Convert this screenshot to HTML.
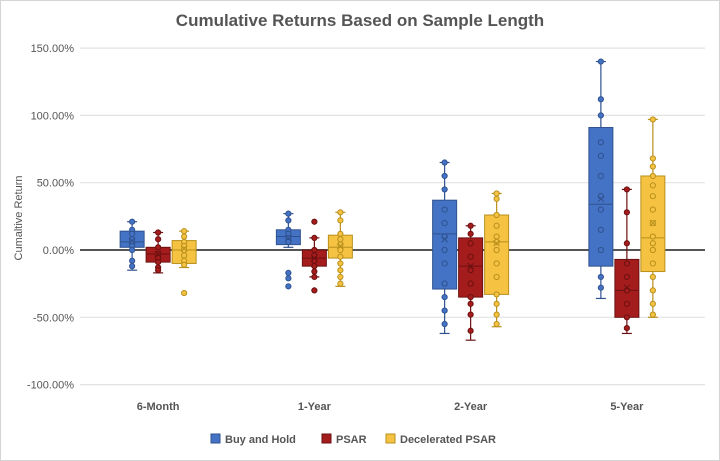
<!DOCTYPE html>
<html><head><meta charset="utf-8"><style>
body{margin:0;background:#fff;font-family:"Liberation Sans",sans-serif}
#wrap{position:relative;width:720px;height:461px;overflow:hidden}
</style></head><body>
<div id="wrap">
<svg id="chart" width="720" height="461" viewBox="0 0 720 461">
<rect x="0.5" y="0.5" width="719" height="460" fill="#fff" stroke="#d4d4d4"/>
<text x="360" y="26" text-anchor="middle" font-size="17" font-weight="bold" fill="#555">Cumulative Returns Based on Sample Length</text>
<text transform="translate(22,218) rotate(-90)" text-anchor="middle" font-size="11" fill="#555">Cumaltive Return</text>
<g id="grid"></g><g id="marks"></g><g id="legend"></g>
</svg>
</div>
<script>
const categories=["6-Month","1-Year","2-Year","5-Year"];
const seriesNames=["Buy and Hold","PSAR","Decelerated PSAR"];
const yTicks=[150,100,50,0,-50,-100];
const yTickLabels=["150.00%","100.00%","50.00%","0.00%","-50.00%","-100.00%"];
const bhMin=[-15,2,-62,-36];const bhQ1=[2,4,-29,-12];const bhMed=[6,10,12,34];const bhQ3=[14,15,37,91];const bhMax=[21,27,65,140];const bhMean=[7,9,8,38];
const psMin=[-17,-20,-67,-62];const psQ1=[-9,-12,-35,-50];const psMed=[-3,-6,-12,-30];const psQ3=[2,0,9,-7];const psMax=[13,9,18,45];const psMean=[-3,-6,-12,-28];
const dpMin=[-13,-27,-57,-50];const dpQ1=[-10,-6,-33,-16];const dpMed=[0,2,6,9];const dpQ3=[7,11,26,55];const dpMax=[14,28,42,97];const dpMean=[1,3,5,20];
const bhPts=[[21,15,12,8,5,3,0,-8,-12],[27,22,15,12,9,6,-17,-21,-27],[65,55,45,30,20,10,0,-10,-25,-35,-45,-55],[140,112,100,80,70,55,40,30,15,0,-20,-28]];
const psPts=[[13,8,2,-3,-6,-9,-13,-15],[21,9,0,-4,-8,-12,-16,-20,-30],[18,12,5,-5,-15,-25,-35,-40,-48,-60],[45,28,5,-10,-20,-30,-40,-50,-58]];
const dpPts=[[14,10,6,3,0,-4,-8,-11,-32],[28,22,12,8,4,0,-5,-10,-15,-20,-25],[42,38,26,18,10,6,0,-10,-20,-33,-40,-48,-55],[97,68,62,55,48,40,30,20,10,5,0,-10,-20,-30,-40,-48]];
const colors=["#4472c4","#a51c1c","#f5c242"];
const strokes=["#2f528f","#6b1010","#b8901c"];
const ns="http://www.w3.org/2000/svg";
const y=v=>250-v*1.346;
const x0=80,xw=625;
const cx=i=>x0+xw/categories.length*(i+0.5);
function mk(t,a,p){const e=document.createElementNS(ns,t);for(const k in a)e.setAttribute(k,a[k]);p.appendChild(e);return e;}
const grid=document.getElementById('grid'),marks=document.getElementById('marks'),leg=document.getElementById('legend');
yTicks.forEach((t,i)=>{
 const l=mk('line',{x1:x0,x2:x0+xw,y1:y(t),y2:y(t),stroke:t===0?'#555':'#e2e2e2','stroke-width':t===0?2:1.2},grid);
 
 
 const tx=mk('text',{x:74,y:y(t)+4,'text-anchor':'end','font-size':11,fill:'#555'},grid);
 tx.textContent=yTickLabels[i];
 
 
});
categories.forEach((c,i)=>{
 const tx=mk('text',{x:cx(i),y:410,'text-anchor':'middle','font-size':11,'font-weight':'bold',fill:'#555'},grid);
 tx.textContent=c;
 
 
});
const S=[[bhMin,bhQ1,bhMed,bhQ3,bhMax,bhMean,bhPts],[psMin,psQ1,psMed,psQ3,psMax,psMean,psPts],[dpMin,dpQ1,dpMed,dpQ3,dpMax,dpMean,dpPts]];
const bw=24,off=26;
categories.forEach((c,i)=>{
 S.forEach((s,k)=>{
  const xc=cx(i)+(k-1)*off;
  const g=mk('g',{},marks);
  
  
  const wc=strokes[k];
  mk('line',{x1:xc,x2:xc,y1:y(s[4][i]),y2:y(s[0][i]),stroke:wc,'stroke-width':1.2},g);
  mk('line',{x1:xc-5,x2:xc+5,y1:y(s[4][i]),y2:y(s[4][i]),stroke:wc,'stroke-width':1.2},g);
  mk('line',{x1:xc-5,x2:xc+5,y1:y(s[0][i]),y2:y(s[0][i]),stroke:wc,'stroke-width':1.2},g);
  mk('rect',{x:xc-bw/2,y:y(s[3][i]),width:bw,height:y(s[1][i])-y(s[3][i]),fill:colors[k],stroke:wc,'stroke-width':1},g);
  mk('line',{x1:xc-bw/2,x2:xc+bw/2,y1:y(s[2][i]),y2:y(s[2][i]),stroke:wc,'stroke-width':1},g);
  s[6][i].forEach(v=>{mk('circle',{cx:xc,cy:y(v),r:2.6,fill:colors[k],stroke:wc,'stroke-width':1},g);});
  const m=y(s[5][i]);
  mk('path',{d:`M${xc-3},${m-3}L${xc+3},${m+3}M${xc+3},${m-3}L${xc-3},${m+3}`,stroke:wc,'stroke-width':1},g);
 });
});
const lx=[211,322,386];
seriesNames.forEach((n,k)=>{
 const g=mk('g',{},leg);
 
 
 mk('rect',{x:lx[k],y:434,width:9,height:9,fill:colors[k],stroke:strokes[k]},g);
 const t=mk('text',{x:lx[k]+14,y:443,'font-size':11,'font-weight':'bold',fill:'#555'},g);
 t.textContent=n;
});
</script>
</body></html>
